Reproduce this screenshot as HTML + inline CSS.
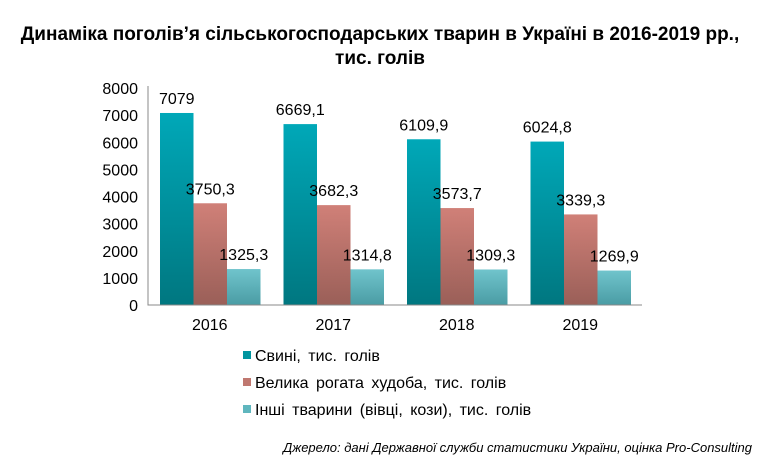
<!DOCTYPE html>
<html><head><meta charset="utf-8"><style>
body{margin:0;background:#fff;width:763px;height:467px;overflow:hidden;font-family:"Liberation Sans",sans-serif}
</style></head><body>
<svg width="763" height="467" xmlns="http://www.w3.org/2000/svg">
<defs>
<linearGradient id="g0" x1="0" y1="0" x2="0" y2="1"><stop offset="0" stop-color="#00a8b8"/><stop offset="1" stop-color="#007780"/></linearGradient>
<linearGradient id="g1" x1="0" y1="0" x2="0" y2="1"><stop offset="0" stop-color="#d08078"/><stop offset="1" stop-color="#9a5f58"/></linearGradient>
<linearGradient id="g2" x1="0" y1="0" x2="0" y2="1"><stop offset="0" stop-color="#70c4cc"/><stop offset="1" stop-color="#4a9ca4"/></linearGradient>
</defs>
<text x="380" y="40" text-anchor="middle" font-weight="bold" font-size="19">Динаміка поголів’я сільськогосподарських тварин в Україні в 2016-2019 рр.,</text>
<text x="380" y="64" text-anchor="middle" font-weight="bold" font-size="19">тис. голів</text>
<g id="plot"></g>
<g font-size="16" word-spacing="3">
<rect x="243" y="351" width="8" height="8" fill="#00959f"/><text x="255" y="361">Свині, тис. голів</text>
<rect x="243" y="378" width="8" height="8" fill="#c07870"/><text x="255" y="388">Велика рогата худоба, тис. голів</text>
<rect x="243" y="405" width="8" height="8" fill="#5fb6be"/><text x="255" y="415">Інші тварини (вівці, кози), тис. голів</text>
</g>
<text x="752" y="452" text-anchor="end" font-size="13" font-style="italic">Джерело: дані Державної служби статистики України, оцінка Pro-Consulting</text>
</svg>
<script>
const categories=["2016","2017","2018","2019"];
const pigs=[7079,6669.1,6109.9,6024.8];
const cattle=[3750.3,3682.3,3573.7,3339.3];
const other=[1325.3,1314.8,1309.3,1269.9];
const yTicks=[0,1000,2000,3000,4000,5000,6000,7000,8000];
const NS="http://www.w3.org/2000/svg";
const g=document.getElementById("plot");
const x0=148,band=123.5,y0=305,yMax=8000,yTop=88;
const y=v=>y0-(v/yMax)*(y0-yTop);
function mk(t,a){const e=document.createElementNS(NS,t);for(const k in a)e.setAttribute(k,a[k]);g.appendChild(e);return e;}
yTicks.forEach(t=>{const e=mk("text",{x:138,y:y(t)+6,"text-anchor":"end","font-size":16});e.textContent=t;

});
const series=[pigs,cattle,other],fills=["url(#g0)","url(#g1)","url(#g2)"],names=["pigs","cattle","other"];
const bw=33.5;
categories.forEach((c,i)=>{
 const bx=x0+i*band+12;
 series.forEach((s,j)=>{
  const r=mk("rect",{x:bx+j*bw,y:y(s[i]),width:bw,height:y0-y(s[i]),fill:fills[j]});
  
  
  const t=mk("text",{x:bx+j*bw+bw/2,y:y(s[i])-9,"text-anchor":"middle","font-size":16});
  t.textContent=String(s[i]).replace(".",",");
  
  
 });
 const l=mk("text",{x:x0+i*band+band/2,y:330,"text-anchor":"middle","font-size":16});l.textContent=c;
 
 
});
const ax=mk("path",{d:`M${x0} ${yTop-2}V${y0}H${x0+4*band}`,stroke:"#888",fill:"none"});


</script>
</body></html>
